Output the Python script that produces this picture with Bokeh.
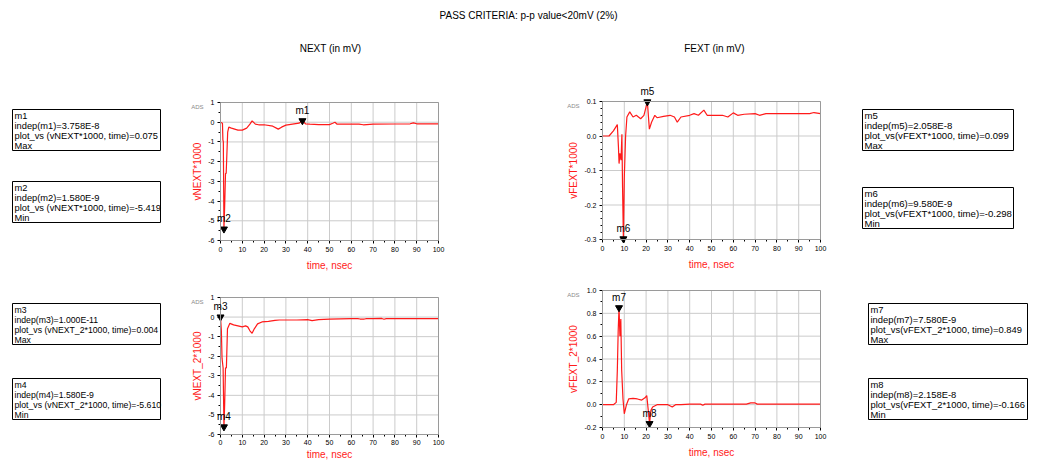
import math
from bokeh.plotting import figure
from bokeh.layouts import column, row
from bokeh.models import Range1d, Label, FixedTicker, PrintfTickFormatter, BoxAnnotation
from bokeh.embed import file_html
from bokeh.resources import INLINE

# ---------------- data ----------------
t_next = [0, 0.9, 1.1, 1.3, 1.58, 1.9, 2.3, 2.6, 3.3, 3.8, 5, 8, 10, 12, 13.5, 14.5, 16,
          17.5, 20, 24, 26.5, 28, 30, 33, 36, 37.58, 39, 41, 45, 50, 51.5, 52.5, 53.5,
          60, 63.5, 65.5, 70, 80, 87, 88.5, 90, 100]
v_next = [0, -0.05, -0.9, -1.0, -5.419, -4.3, -2.6, -2.6, -0.5, -0.25, -0.3, -0.4, -0.4,
          -0.3, -0.1, 0.07, -0.1, -0.13, -0.13, -0.2, -0.35, -0.25, -0.15, -0.1, -0.05,
          0.075, -0.08, -0.1, -0.12, -0.12, -0.05, 0.0, -0.1, -0.1, -0.1, -0.13, -0.1,
          -0.09, -0.08, -0.03, -0.08, -0.08]

t_fext = [0, 3, 5, 6.8, 7.3, 7.6, 8.0, 8.5, 8.9, 9.2, 9.58, 10.0, 10.6, 11.2, 12.5, 14,
          15.5, 17.5, 19, 20.58, 21.5, 22.5, 24, 25, 28, 31, 33, 34.3, 36, 40, 42, 44,
          46.5, 48, 50, 55, 57.5, 60, 62, 65, 70, 72, 75, 80, 90, 95, 97, 100]
v_fext = [0.0, 0.0, 0.015, 0.033, -0.03, -0.08, -0.05, -0.07, 0.005, -0.15, -0.298,
          -0.12, 0.0, 0.055, 0.07, 0.055, 0.06, 0.05, 0.06, 0.099, 0.02, 0.04, 0.06,
          0.053, 0.057, 0.06, 0.055, 0.04, 0.055, 0.06, 0.065, 0.06, 0.075, 0.06, 0.06,
          0.06, 0.055, 0.067, 0.06, 0.063, 0.065, 0.06, 0.065, 0.065, 0.065, 0.065,
          0.068, 0.065]

t_next2 = [0, 0.01, 0.4, 0.7, 0.9, 1.2, 1.58, 1.9, 2.3, 2.7, 3.2, 4.3, 6, 8, 10, 11.5,
           12.5, 13.5, 14.5, 15.5, 17, 19, 22, 25, 27, 30, 35, 40, 42, 45, 50, 55, 60,
           63, 64, 66, 67, 70, 74, 75, 76, 80, 90, 100]
v_next2 = [0.004, 0.004, -0.7, -2.1, -2.3, -2.6, -5.61, -4.5, -2.6, -2.6, -0.6, -0.32,
           -0.4, -0.45, -0.5, -0.45, -0.5, -0.7, -0.83, -0.6, -0.35, -0.25, -0.22,
           -0.17, -0.15, -0.15, -0.15, -0.13, -0.18, -0.13, -0.1, -0.09, -0.08, -0.08,
           -0.1, -0.1, -0.08, -0.08, -0.07, -0.11, -0.08, -0.08, -0.08, -0.08]

t_fext2 = [0, 5, 6.3, 6.8, 7.2, 7.58, 8.0, 8.4, 8.8, 9.4, 10.0, 11.0, 12, 14, 16, 18,
           19.5, 20.3, 21.0, 21.58, 22.2, 23, 25, 28, 30, 32, 33.5, 36, 40, 45, 46, 47,
           55, 66, 68, 70, 71, 80, 100]
v_fext2 = [0.0, 0.0, 0.02, 0.3, 0.65, 0.849, 0.6, 0.75, 0.3, 0.05, -0.08, 0.0, 0.05,
           0.055, 0.05, 0.04, 0.06, 0.08, -0.05, -0.166, -0.05, -0.02, 0.0, 0.0, 0.0,
           -0.02, 0.0, 0.0, 0.005, 0.005, -0.005, 0.005, 0.005, 0.005, 0.015, 0.015,
           0.005, 0.005, 0.005]

x_ticks = [0, 10, 20, 30, 40, 50, 60, 70, 80, 90, 100]
x_minor = [5, 15, 25, 35, 45, 55, 65, 75, 85, 95]
y_ticks_next = [-6, -5, -4, -3, -2, -1, 0, 1]
y_minor_next = [-5.5, -4.5, -3.5, -2.5, -1.5, -0.5, 0.5]
y_ticks_fext = [-0.3, -0.2, -0.1, 0.0, 0.1]
y_minor_fext = [-0.28, -0.26, -0.24, -0.22, -0.18, -0.16, -0.14, -0.12, -0.08, -0.06,
                -0.04, -0.02, 0.02, 0.04, 0.06, 0.08]
y_ticks_fext2 = [-0.2, 0.0, 0.2, 0.4, 0.6, 0.8, 1.0]
y_minor_fext2 = [-0.1, 0.1, 0.3, 0.5, 0.7, 0.9]

markers_next = [("m1", 37.58, 0.075), ("m2", 1.58, -5.419)]
markers_fext = [("m5", 20.58, 0.099), ("m6", 9.58, -0.298)]
markers_next2 = [("m3", 0.01, 0.004), ("m4", 1.58, -5.61)]
markers_fext2 = [("m7", 7.58, 0.849), ("m8", 21.58, -0.166)]

box_lines = {
    "m1": ["m1", "indep(m1)=3.758E-8", "plot_vs (vNEXT*1000, time)=0.075", "Max"],
    "m2": ["m2", "indep(m2)=1.580E-9", "plot_vs (vNEXT*1000, time)=-5.419", "Min"],
    "m3": ["m3", "indep(m3)=1.000E-11", "plot_vs (vNEXT_2*1000, time)=0.004", "Max"],
    "m4": ["m4", "indep(m4)=1.580E-9", "plot_vs (vNEXT_2*1000, time)=-5.610", "Min"],
    "m5": ["m5", "indep(m5)=2.058E-8", "plot_vs(vFEXT*1000, time)=0.099", "Max"],
    "m6": ["m6", "indep(m6)=9.580E-9", "plot_vs(vFEXT*1000, time)=-0.298", "Min"],
    "m7": ["m7", "indep(m7)=7.580E-9", "plot_vs(vFEXT_2*1000, time)=0.849", "Max"],
    "m8": ["m8", "indep(m8)=2.158E-8", "plot_vs(vFEXT_2*1000, time)=-0.166", "Min"],
}

FONT = "Liberation Sans"
RED = "#ff1a1a"


def hide(f):
    f.axis.visible = False
    f.grid.visible = False
    f.outline_line_color = None
    return f


def panel(w, h, bx0, bx1, by0, by1, t, v, ylo, yhi, yticks, yminor, fmt,
          ylabel, markers, ylab_dx, ads_dx, tick_sd=3, lab_sd=5):
    # the frame fills the whole figure; (bx0..bx1, by0..by1) is the plot box in px
    sx = (bx1 - bx0) / 100.0
    sy = (by1 - by0) / (yhi - ylo)
    x0 = -bx0 / sx
    x1 = 100 + (w - bx1) / sx
    y0 = ylo - (h - by1) / sy
    y1 = yhi + by0 / sy
    p = figure(width=w, height=h, x_range=Range1d(x0, x1), y_range=Range1d(y0, y1),
               output_backend="svg", toolbar_location=None, min_border=0)
    p.outline_line_color = None
    p.grid.visible = False
    # grid lines at the tick positions
    p.segment(x0=x_ticks, y0=[ylo] * len(x_ticks), x1=x_ticks, y1=[yhi] * len(x_ticks),
              line_color="#cbcbcb", line_width=1)
    p.segment(x0=[0] * len(yticks), y0=yticks, x1=[100] * len(yticks), y1=yticks,
              line_color="#cbcbcb", line_width=1)
    p.add_layout(BoxAnnotation(left=0, right=100, bottom=ylo, top=yhi, fill_alpha=0,
                               line_color="#9a9a9a", line_alpha=1, line_width=1))
    p.xaxis.ticker = FixedTicker(ticks=x_ticks, minor_ticks=x_minor)
    p.yaxis.ticker = FixedTicker(ticks=yticks, minor_ticks=yminor)
    p.yaxis.formatter = PrintfTickFormatter(format=fmt)
    p.xaxis.bounds = (0, 100)
    p.yaxis.bounds = (ylo, yhi)
    p.yaxis.fixed_location = 0
    p.xaxis.fixed_location = ylo
    for ax in (p.xaxis, p.yaxis):
        ax.axis_line_color = "black"
        ax.major_tick_line_color = "black"
        ax.minor_tick_line_color = "black"
        ax.major_tick_out = 3
        ax.major_tick_in = 0
        ax.minor_tick_out = 2
        ax.minor_tick_in = 0
        ax.major_label_text_font = FONT
        ax.major_label_text_font_size = "7px"
        ax.major_label_text_color = "black"
        ax.major_label_standoff = 3
        ax.axis_label_text_font = FONT
        ax.axis_label_text_font_size = "10px"
        ax.axis_label_text_font_style = "normal"
        ax.axis_label_text_color = RED
    p.xaxis.major_label_standoff = tick_sd
    p.xaxis.axis_label = "time, nsec"
    p.xaxis.axis_label_standoff = lab_sd
    p.add_layout(Label(x=0, y=(ylo + yhi) / 2, x_offset=ylab_dx, text=ylabel,
                       angle=math.pi / 2, text_align="center", text_baseline="middle",
                       text_font=FONT, text_font_size="10px", text_color=RED))
    p.add_layout(Label(x=0, y=yhi, text="ADS", x_offset=ads_dx, y_offset=-4,
                       text_align="right", text_baseline="middle", text_font=FONT,
                       text_font_size="6px", text_color="#8a8a8a"))
    p.line(t, v, line_color=RED, line_width=1.2)
    p.scatter([m[1] for m in markers], [m[2] for m in markers],
              marker="inverted_triangle", size=7, color="black")
    for name, mx, my in markers:
        p.add_layout(Label(x=mx, y=my, text=name, y_offset=5, text_align="center",
                           text_baseline="bottom", text_font=FONT,
                           text_font_size="10px", text_color="black"))
    return p


def boxes(w, h, items):
    f = hide(figure(width=w, height=h, x_range=Range1d(0, w), y_range=Range1d(h, 0),
                    output_backend="svg", toolbar_location=None, min_border=0))
    for key, left, right, top, fsize in items:
        f.add_layout(BoxAnnotation(left=left, right=right, top=top, bottom=top + 41,
                                   fill_color="white", fill_alpha=1,
                                   line_color="black", line_alpha=1, line_width=1))
        for i, line in enumerate(box_lines[key]):
            f.add_layout(Label(x=left + 2, y=top + 6 + 10 * i, text=line,
                               text_font=FONT, text_font_size=fsize,
                               text_color="black", text_baseline="middle",
                               text_align="left"))
    return f


# header
header = hide(figure(width=1038, height=60, x_range=Range1d(0, 1038),
                     y_range=Range1d(60, 0), output_backend="svg",
                     toolbar_location=None, min_border=0))
header.add_layout(Label(x=528, y=15, text="PASS CRITERIA: p-p value<20mV (2%)",
                        text_align="center", text_baseline="middle", text_font=FONT,
                        text_font_size="10px", text_color="black"))
header.add_layout(Label(x=330, y=48, text="NEXT (in mV)", text_align="center",
                        text_baseline="middle", text_font=FONT, text_font_size="10px",
                        text_color="black"))
header.add_layout(Label(x=714, y=48, text="FEXT (in mV)", text_align="center",
                        text_baseline="middle", text_font=FONT, text_font_size="10px",
                        text_color="black"))

A_h = 212   # page y 60..272
B_h = 189   # page y 272..461

# p1: page x 170..540 ; plot box x 220..438, y 102..240
p1 = panel(370, A_h, 50, 268, 42, 180, t_next, v_next, -6, 1,
           y_ticks_next, y_minor_next, "%d", "vNEXT*1000", markers_next, -23, -17)
# p2: page x 540..850 ; plot box x 602..820, y 101..239
p2 = panel(310, A_h, 62, 280, 41, 179, t_fext, v_fext, -0.3, 0.1,
           y_ticks_fext, y_minor_fext, "%.1f", "vFEXT*1000", markers_fext, -29, -23)
# p3: plot box x 220..438, y 297..434
p3 = panel(370, B_h, 50, 268, 25, 162, t_next2, v_next2, -6, 1,
           y_ticks_next, y_minor_next, "%d", "vNEXT_2*1000", markers_next2, -23, -17,
           tick_sd=2, lab_sd=1)
# p4: plot box x 602..820, y 290..427
p4 = panel(310, B_h, 62, 280, 18, 155, t_fext2, v_fext2, -0.2, 1.0,
           y_ticks_fext2, y_minor_fext2, "%.1f", "vFEXT_2*1000", markers_fext2, -29, -23)

lb1 = boxes(170, A_h, [("m1", 12, 160, 49, "9.3px"), ("m2", 12, 160, 121, "9.3px")])
rb1 = boxes(188, A_h, [("m5", 12, 163, 49, "9.6px"), ("m6", 12, 163, 127, "9.6px")])
lb2 = boxes(170, B_h, [("m3", 12, 160, 31, "8.7px"), ("m4", 12, 160, 106, "8.7px")])
rb2 = boxes(188, B_h, [("m7", 18, 177, 31, "9.4px"), ("m8", 18, 177, 106, "9.4px")])

layout = column(header, row(lb1, p1, p2, rb1), row(lb2, p3, p4, rb2))

open("out.html", "w").write(file_html(layout, INLINE))
